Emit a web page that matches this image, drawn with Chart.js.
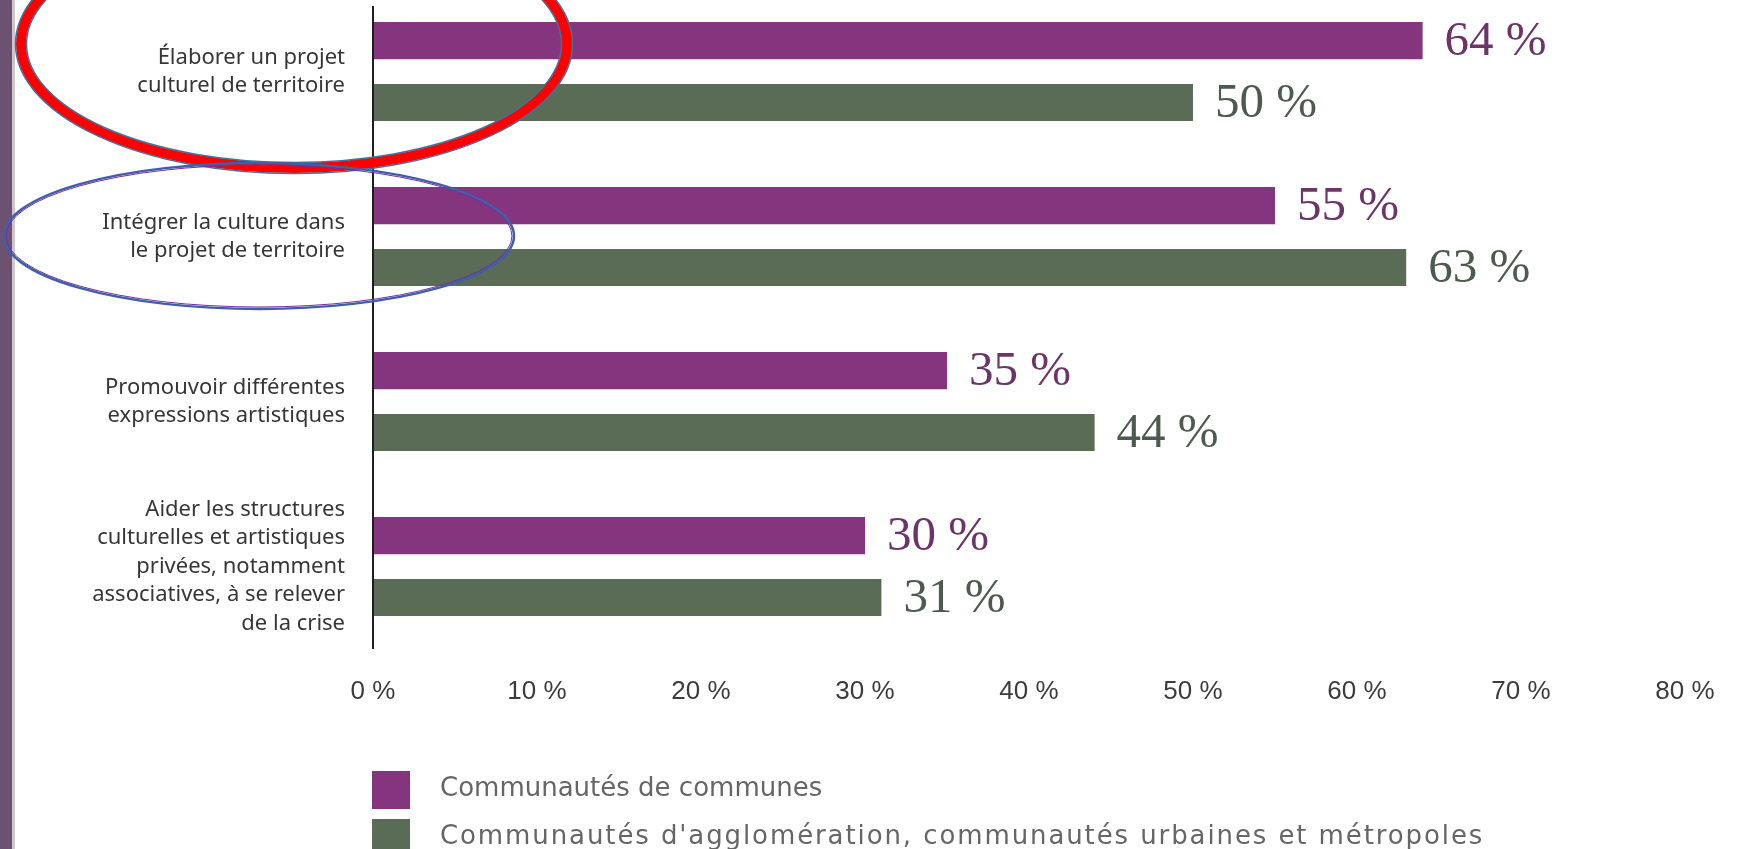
<!DOCTYPE html>
<html><head><meta charset="utf-8">
<script src="https://cdn.jsdelivr.net/npm/chart.js@4"></script>
<style>
html,body{margin:0;padding:0;background:#fff;overflow:hidden;width:1741px;height:849px;}
#wrap{position:absolute;left:0;top:-20px;width:1741px;height:869px;}
canvas{display:block;}
</style></head><body>
<div id="wrap"><canvas id="c" width="1741" height="869"></canvas></div>
<script>
const categories = [
  ["Élaborer un projet", "culturel de territoire"],
  ["Intégrer la culture dans", "le projet de territoire"],
  ["Promouvoir différentes", "expressions artistiques"],
  ["Aider les structures", "culturelles et artistiques", "privées, notamment", "associatives, à se relever", "de la crise"]
];
const seriesNames = ["Communautés de communes", "Communautés d'agglomération, communautés urbaines et métropoles"];
const communesValues = [64, 55, 35, 30];
const agglomerationValues = [50, 63, 44, 31];
const xTickValues = [0, 10, 20, 30, 40, 50, 60, 70, 80];

const PURPLE = '#84357e';
const GREEN = '#5a6c55';
const LABEL_COLORS = ['#6d3468', '#4c5b4e'];
const LEGEND_SPACING = ['0px', '1.9px'];
const OFF = 20; // canvas is shifted up by 20px

const decor = {
  id: 'decor',
  beforeDraw(chart) {
    const ctx = chart.ctx;
    ctx.save();
    ctx.fillStyle = '#ffffff';
    ctx.fillRect(0, 0, chart.width, chart.height);
    ctx.fillStyle = '#6c5270';
    ctx.fillRect(0, 0, 12, chart.height);
    ctx.fillStyle = '#cdc6cc';
    ctx.fillRect(12, 0, 3, chart.height);
    ctx.restore();
  },
  afterDatasetsDraw(chart) {
    const ctx = chart.ctx;
    const ca = chart.chartArea;
    ctx.save();
    ctx.strokeStyle = '#1e1e1e';
    ctx.lineWidth = 2;
    ctx.beginPath();
    ctx.moveTo(ca.left, 6 + OFF);
    ctx.lineTo(ca.left, ca.bottom);
    ctx.stroke();
    ctx.font = '49px "Liberation Serif", "DejaVu Serif", serif';
    ctx.textBaseline = 'middle';
    ctx.textAlign = 'left';
    chart.data.datasets.forEach((ds, di) => {
      const meta = chart.getDatasetMeta(di);
      ctx.fillStyle = LABEL_COLORS[di];
      meta.data.forEach((bar, i) => {
        ctx.fillText(ds.data[i] + ' %', bar.x + 22, bar.y + 2);
      });
    });
    ctx.restore();
  },
  afterDraw(chart) {
    const ctx = chart.ctx;
    const ca = chart.chartArea;
    ctx.save();
    chart.data.datasets.forEach((ds, i) => {
      const top = 771 + OFF + i * 48;
      ctx.fillStyle = ds.backgroundColor;
      ctx.fillRect(ca.left - 1, top, 38, 38);
      ctx.fillStyle = '#666666';
      ctx.font = '26px "DejaVu Sans", sans-serif';
      ctx.letterSpacing = LEGEND_SPACING[i];
      ctx.textBaseline = 'middle';
      ctx.textAlign = 'left';
      ctx.fillText(ds.label, ca.left + 67, top + 18);
    });
    ctx.letterSpacing = '0px';
    // red annotation ellipse
    const rc = { x: 294, y: 44 + OFF, rx: 273, ry: 124 };
    ctx.lineWidth = 10;
    ctx.strokeStyle = '#ff0000';
    ctx.beginPath();
    ctx.ellipse(rc.x, rc.y, rc.rx, rc.ry, 0, 0, Math.PI * 2);
    ctx.stroke();
    ctx.lineWidth = 1.5;
    ctx.strokeStyle = '#41719c';
    ctx.beginPath();
    ctx.ellipse(rc.x, rc.y, rc.rx + 5.5, rc.ry + 5.5, 0, 0, Math.PI * 2);
    ctx.stroke();
    ctx.beginPath();
    ctx.ellipse(rc.x, rc.y, rc.rx - 5.5, rc.ry - 5.5, 0, 0, Math.PI * 2);
    ctx.stroke();
    // blue annotation ellipse
    ctx.lineWidth = 2.5;
    ctx.strokeStyle = '#3f5faa';
    ctx.beginPath();
    ctx.ellipse(259, 236 + OFF, 255, 73, 0, 0, Math.PI * 2);
    ctx.stroke();
    ctx.lineWidth = 1;
    ctx.strokeStyle = '#7030a0';
    ctx.beginPath();
    ctx.ellipse(259, 236 + OFF, 253, 71, 0, 0, Math.PI * 2);
    ctx.stroke();
    ctx.restore();
  }
};

new Chart(document.getElementById('c'), {
  type: 'bar',
  data: {
    labels: categories,
    datasets: [
      { label: seriesNames[0], data: communesValues, backgroundColor: PURPLE, borderWidth: 0,
        categoryPercentage: 0.75, barPercentage: 0.6 },
      { label: seriesNames[1], data: agglomerationValues, backgroundColor: GREEN, borderWidth: 0,
        categoryPercentage: 0.75, barPercentage: 0.6 }
    ]
  },
  options: {
    indexAxis: 'y',
    responsive: false,
    animation: false,
    devicePixelRatio: 1,
    layout: { padding: { top: 9, right: 56, bottom: 140, left: 0 } },
    plugins: { legend: { display: false }, tooltip: { enabled: false } },
    scales: {
      x: {
        type: 'linear', min: 0, max: 80,
        afterBuildTicks: (s) => { s.ticks = xTickValues.map(v => ({ value: v })); },
        afterFit: (s) => { s.height = 60; s.paddingLeft = 0; s.paddingRight = 0; },
        grid: { display: false },
        border: { display: false },
        ticks: {
          padding: 19,
          autoSkip: false,
          maxRotation: 0,
          color: '#3c3c3c',
          font: { family: '"Liberation Sans", Arial, sans-serif', size: 26 },
          callback: (v) => v + ' %'
        }
      },
      y: {
        type: 'category',
        afterFit: (s) => { s.width = 373; s.paddingTop = 0; s.paddingBottom = 0; },
        grid: { display: false },
        border: { display: false },
        ticks: {
          padding: 20,
          autoSkip: false,
          color: '#363636',
          font: { family: '"Noto Sans", sans-serif', size: 22, lineHeight: 1.29 }
        }
      }
    }
  },
  plugins: [decor]
});
</script>
</body></html>
